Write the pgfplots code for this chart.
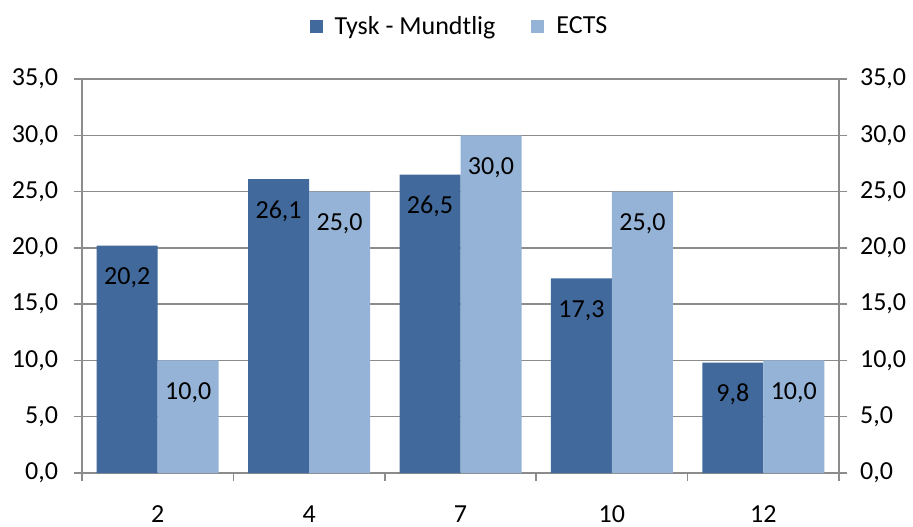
\documentclass[border=0pt]{standalone}
\usepackage{fontspec}
\setmainfont{Carlito}
\usepackage{pgfplots}
\pgfplotsset{compat=1.18}
\definecolor{dark}{HTML}{41699B}
\definecolor{light}{HTML}{95B3D7}
\definecolor{gridc}{HTML}{8C8C8C}
\newcommand{\cf}{\fontsize{13}{15}\selectfont}
\begin{document}
\begin{tikzpicture}
\useasboundingbox (-41pt,-26.5pt) rectangle (415.5pt,236.5pt);
\begin{axis}[
  scale only axis, width=378.5pt, height=197pt,
  xmin=-0.5, xmax=4.5, ymin=0, ymax=35,
  ybar=0pt, bar width=30.5pt,
  ytick={0,5,...,35},
  xtick={0,...,4}, xticklabels={2,4,7,10,12},
  major x tick style={draw=none},
  extra x ticks={-0.5,0.5,1.5,2.5,3.5,4.5},
  extra x tick labels={},
  extra x tick style={major x tick style={draw=gridc}, grid=none},
  axis x line*=bottom, axis y line*=left,
  axis line style={-, gridc, line width=0.75pt},
  ymajorgrids, major grid style={gridc, line width=0.75pt},
  tick align=outside, major tick length=4pt,
  tick style={gridc, line width=0.75pt},
  tick label style={font=\cf, text=black},
  /pgf/number format/assume math mode=true,
  yticklabel style={xshift=-4.5pt, /pgf/number format/.cd, fixed, fixed zerofill, precision=1, use comma},
  xticklabel style={anchor=center, yshift=-16.5pt},
  legend style={at={(0.5,1.132)}, anchor=center, draw=none, font=\cf,
    legend columns=2, /tikz/every odd column/.append style={column sep=4pt},
    /tikz/every even column/.append style={column sep=16pt}},
  legend image code/.code={\path[#1, draw=none] (0pt,-3.25pt) rectangle (6.5pt,3.25pt);},
  nodes near coords,
  nodes near coords style={font=\cf, text=black, anchor=center, yshift=-16pt,
    /pgf/number format/.cd, fixed, fixed zerofill, precision=1, use comma, assume math mode=true},
]
\addplot[fill=dark, draw=none] coordinates {(0,20.2) (1,26.1) (2,26.5) (3,17.3) (4,9.8)};
\addplot[fill=light, draw=none] coordinates {(0,10.0) (1,25.0) (2,30.0) (3,25.0) (4,10.0)};
\legend{Tysk - Mundtlig, ECTS}
\end{axis}
\begin{axis}[
  scale only axis, width=378.5pt, height=197pt,
  xmin=-0.5, xmax=4.5, ymin=0, ymax=35,
  axis y line*=right, hide x axis,
  axis line style={-, gridc, line width=0.75pt},
  ytick={0,5,...,35},
  tick align=outside, major tick length=4pt,
  tick style={gridc, line width=0.75pt},
  tick label style={font=\cf, text=black},
  /pgf/number format/assume math mode=true,
  yticklabel style={xshift=3pt, /pgf/number format/.cd, fixed, fixed zerofill, precision=1, use comma},
]
\addplot[draw=none] coordinates {(0,0)};
\end{axis}
\end{tikzpicture}
\end{document}
